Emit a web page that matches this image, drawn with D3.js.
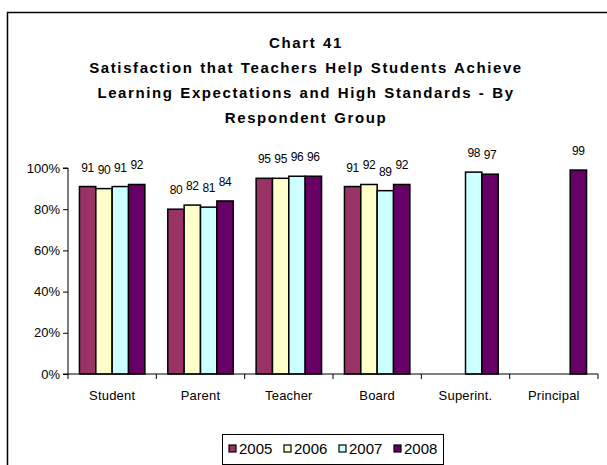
<!DOCTYPE html>
<html>
<head>
<meta charset="utf-8">
<script src="https://cdn.jsdelivr.net/npm/d3@7"></script>
<style>
  html, body { margin: 0; padding: 0; background: #fff; }
  svg { display: block; font-family: "Liberation Sans", Arial, sans-serif; }
</style>
</head>
<body>
<svg id="chart" width="607" height="465"></svg>
<script>
// Respondent groups and yearly satisfaction (%); null = group not surveyed that year
const categories = ["Student", "Parent", "Teacher", "Board", "Superint.", "Principal"];
const years = ["2005", "2006", "2007", "2008"];
const values2005 = [91, 80, 95, 91, null, null];
const values2006 = [90, 82, 95, 92, null, null];
const values2007 = [91, 81, 96, 89, 98, null];
const values2008 = [92, 84, 96, 92, 97, 99];
const yTicks = [0, 20, 40, 60, 80, 100];
const colors = ["#993366", "#FFFFCC", "#CCFFFF", "#660066"];
const titleLines = [
  "Chart 41",
  "Satisfaction that Teachers Help Students Achieve",
  "Learning Expectations and High Standards - By",
  "Respondent Group"
];

const seriesValues = [values2005, values2006, values2007, values2008];
const series = years.map((yr, i) => ({ year: yr, color: colors[i], values: seriesValues[i] }));

const svg = d3.select("#chart");

// outer frame (runs off the right and bottom edges)
svg.append("rect")
  .attr("x", 7.5).attr("y", 12.5)
  .attr("width", 640).attr("height", 500)
  .attr("fill", "#fff").attr("stroke", "#000").attr("stroke-width", 1.5);

// title
const title = svg.append("g").attr("font-weight", "bold").attr("font-size", 15)
  .attr("text-anchor", "middle").attr("letter-spacing", 1.6).attr("word-spacing", 1);
titleLines.forEach((t, i) => {
  title.append("text").attr("x", 306).attr("y", 48 + i * 25).text(t);
});

const margin = { left: 68, right: 598, top: 168, bottom: 374 };

const x0 = d3.scaleBand().domain(categories).range([margin.left, margin.right]).padding(0);
const x1 = d3.scaleBand().domain(years).range([0, x0.bandwidth()]).paddingOuter(0.7).paddingInner(0);
const y = d3.scaleLinear().domain([0, 100]).range([margin.bottom, margin.top]);

const cells = d => d.values
  .map((v, i) => ({ v, cat: categories[i], year: d.year }))
  .filter(e => e.v !== null);

// bars
const groups = svg.append("g").selectAll("g").data(series).join("g")
  .attr("fill", d => d.color);

groups.selectAll("rect")
  .data(cells)
  .join("rect")
  .attr("x", e => x0(e.cat) + x1(e.year))
  .attr("y", e => y(e.v))
  .attr("width", x1.bandwidth())
  .attr("height", e => y(0) - y(e.v))
  .attr("stroke", "#000").attr("stroke-width", 1.5);

// value labels
groups.selectAll("text")
  .data(cells)
  .join("text")
  .attr("x", e => x0(e.cat) + x1(e.year) + x1.bandwidth() / 2)
  .attr("y", e => y(e.v) - 15)
  .attr("text-anchor", "middle")
  .attr("font-size", 12)
  .attr("letter-spacing", -0.4)
  .attr("fill", "#000")
  .text(e => e.v);

// y axis
const yAxis = d3.axisLeft(y).tickValues(yTicks).tickFormat(d => d + "%").tickSize(5).tickPadding(3);
const gy = svg.append("g").attr("transform", `translate(${margin.left},0)`).call(yAxis);
gy.select(".domain").attr("stroke", "#000").attr("d", `M-5,${margin.top}H0V${margin.bottom}H-5`);
gy.selectAll("text").attr("font-size", 13).attr("font-family", "Liberation Sans, Arial, sans-serif").attr("fill", "#000");
gy.selectAll("line").attr("stroke", "#000");

// x axis: ticks between categories
const gx = svg.append("g").attr("transform", `translate(0,${margin.bottom})`);
gx.append("line").attr("x1", margin.left).attr("x2", margin.right).attr("stroke", "#000");
const boundaries = categories.map(c => x0(c)).concat([margin.right]);
gx.selectAll("line.tick").data(boundaries).join("line").attr("class", "tick")
  .attr("x1", d => d).attr("x2", d => d).attr("y1", 0).attr("y2", 5).attr("stroke", "#000");
gx.selectAll("text").data(categories).join("text")
  .attr("x", c => x0(c) + x0.bandwidth() / 2)
  .attr("y", 26)
  .attr("text-anchor", "middle")
  .attr("font-size", 13)
  .attr("letter-spacing", 0.2)
  .text(c => c);

// legend
const legend = svg.append("g");
legend.append("rect").attr("x", 222.5).attr("y", 434.5).attr("width", 221).attr("height", 30)
  .attr("fill", "#fff").attr("stroke", "#000").attr("stroke-width", 1);
const itemW = 55;
const items = legend.selectAll("g.item").data(series).join("g").attr("class", "item")
  .attr("transform", (d, i) => `translate(${229 + i * itemW},449)`);
items.append("rect").attr("x", 0).attr("y", -4).attr("width", 7).attr("height", 7)
  .attr("fill", d => d.color).attr("stroke", "#000").attr("stroke-width", 1.2);
items.append("text").attr("x", 10).attr("y", 5).attr("font-size", 15).text(d => d.year);
</script>
</body>
</html>
